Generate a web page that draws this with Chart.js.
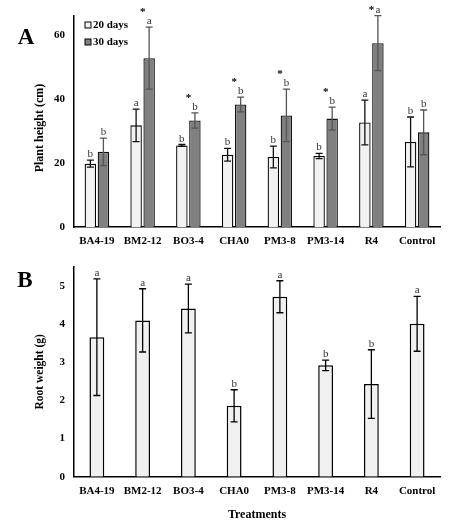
<!DOCTYPE html>
<html>
<head>
<meta charset="utf-8">
<script src="https://cdn.jsdelivr.net/npm/chart.js@4"></script>
<style>
  html, body { margin: 0; padding: 0; background: #fff; }
  #wrap { position: relative; width: 454px; height: 530px; }
  #cA { position: absolute; left: 0; top: 0; }
  #cB { position: absolute; left: 0; top: 250px; }
</style>
</head>
<body>
<div id="wrap">
  <canvas id="cA" width="454" height="250"></canvas>
  <canvas id="cB" width="454" height="280"></canvas>
</div>
<script>
const categories = ['BA4-19', 'BM2-12', 'BO3-4', 'CHA0', 'PM3-8', 'PM3-14', 'R4', 'Control'];
const height20 = [19.8, 31.8, 25.5, 22.6, 21.9, 22.2, 32.7, 26.6];
const height20Err = [1.1, 5.1, 0.3, 2.0, 3.4, 0.8, 7.0, 7.8];
const height30 = [23.5, 52.8, 33.3, 38.3, 34.9, 33.9, 57.5, 29.6];
const height30Err = [4.3, 9.7, 2.4, 2.3, 8.2, 3.6, 8.6, 7.0];
const letters20 = ['b', 'a', 'b', 'b', 'b', 'b', 'a', 'b'];
const letters30 = ['b', 'a', 'b', 'b', 'b', 'b', 'a', 'b'];
const stars = ['', '*', '*', '*', '*', '*', '*', ''];
const rootWeight = [3.66, 4.10, 4.41, 1.86, 4.72, 2.92, 2.43, 4.01];
const rootErr = [1.53, 0.83, 0.64, 0.42, 0.42, 0.14, 0.90, 0.72];
const rootLetters = ['a', 'a', 'a', 'b', 'a', 'b', 'b', 'a'];

const SERIF = "'Liberation Serif', 'Times New Roman', serif";

const annot = {
  id: 'annot',
  afterDatasetsDraw(chart, args, opts) {
    const ctx = chart.ctx;
    const ys = chart.scales.y;
    const letterTops = [];
    ctx.save();
    opts.series.forEach((s, di) => {
      const meta = chart.getDatasetMeta(di);
      meta.data.forEach((bar, j) => {
        const v = s.values[j], e = s.errors[j];
        const yt = ys.getPixelForValue(v + e);
        const yb = ys.getPixelForValue(v - e);
        const x = bar.x;
        ctx.strokeStyle = s.errColor;
        ctx.lineWidth = 1.3;
        ctx.beginPath();
        ctx.moveTo(x, yt); ctx.lineTo(x, yb);
        ctx.moveTo(x - 3.5, yt); ctx.lineTo(x + 3.5, yt);
        ctx.moveTo(x - 3.5, yb); ctx.lineTo(x + 3.5, yb);
        ctx.stroke();
        ctx.fillStyle = '#333';
        ctx.font = '11px ' + SERIF;
        ctx.textAlign = 'center';
        ctx.textBaseline = 'alphabetic';
        ctx.fillText(s.letters[j], x, yt - 3);
        const top = yt - 11;
        letterTops[j] = letterTops[j] === undefined ? top : Math.min(letterTops[j], top);
      });
    });
    if (opts.stars) {
      const xs = chart.scales.x;
      ctx.fillStyle = '#000';
      ctx.font = 'bold 11px ' + SERIF;
      ctx.textAlign = 'center';
      opts.stars.forEach((st, j) => {
        if (!st) return;
        const x = xs.getPixelForValue(j);
        const y = Math.max(letterTops[j] - 1, 13);
        ctx.fillText(st, x, y);
      });
    }
    if (opts.panel) {
      ctx.fillStyle = '#000';
      ctx.font = 'bold 23px ' + SERIF;
      ctx.textAlign = 'center';
      ctx.textBaseline = 'middle';
      ctx.fillText(opts.panel.text, opts.panel.x, opts.panel.y);
    }
    if (opts.yTitle) {
      ctx.save();
      ctx.fillStyle = '#000';
      ctx.font = 'bold 12px ' + SERIF;
      ctx.textAlign = 'center';
      ctx.textBaseline = 'middle';
      ctx.translate(opts.yTitle.x, opts.yTitle.y);
      ctx.rotate(-Math.PI / 2);
      ctx.fillText(opts.yTitle.text, 0, 0);
      ctx.restore();
    }
    if (opts.legend) {
      ctx.font = 'bold 11px ' + SERIF;
      ctx.textAlign = 'left';
      ctx.textBaseline = 'middle';
      opts.legend.forEach(it => {
        ctx.fillStyle = it.fill;
        ctx.strokeStyle = '#000';
        ctx.lineWidth = 1;
        ctx.fillRect(it.x, it.y - 3, 6, 6);
        ctx.strokeRect(it.x, it.y - 3, 6, 6);
        ctx.fillStyle = '#000';
        ctx.fillText(it.text, it.x + 8, it.y + 0.5);
      });
    }
    ctx.restore();
  }
};

function yScale(min, max, step, title, width, titlePad) {
  return {
    min: min, max: max,
    grid: { display: false, drawTicks: false },
    border: { display: true, color: '#000', width: 1.5 },
    ticks: { stepSize: step, includeBounds: false, padding: 9, color: '#000',
             font: { family: SERIF, size: 11, weight: 'bold' } },
    title: { display: !!title, text: title || '', color: '#000', padding: { top: titlePad, bottom: 0 },
             font: { family: SERIF, size: 11.5, weight: 'bold' } },
    afterFit: s => { s.width = width; }
  };
}

function xScale(height, title) {
  const sc = {
    grid: { display: false, drawTicks: false },
    border: { display: true, color: '#000', width: 1.5 },
    ticks: { padding: 8, color: '#000', maxRotation: 0, autoSkip: false,
             font: { family: SERIF, size: 11, weight: 'bold' } },
    afterFit: s => { s.height = height; }
  };
  if (title) {
    sc.title = { display: true, text: title, color: '#000', padding: { top: 0, bottom: 8 },
                 font: { family: SERIF, size: 12, weight: 'bold' } };
  }
  return sc;
}

new Chart(document.getElementById('cA'), {
  type: 'bar',
  data: {
    labels: categories,
    datasets: [
      { label: '20 days', data: height20, backgroundColor: '#f2f2f2', borderColor: '#000',
        borderWidth: 1.3, categoryPercentage: 0.57, barPercentage: 0.88 },
      { label: '30 days', data: height30, backgroundColor: '#808080', borderColor: '#111',
        borderWidth: 1.3, categoryPercentage: 0.57, barPercentage: 0.88 }
    ]
  },
  options: {
    responsive: false,
    animation: false,
    layout: { padding: { left: 20, right: 14, top: 16, bottom: 0 } },
    plugins: {
      legend: { display: false },
      tooltip: { enabled: false },
      annot: {
        series: [
          { values: height20, errors: height20Err, letters: letters20, errColor: '#111' },
          { values: height30, errors: height30Err, letters: letters30, errColor: '#555' }
        ],
        stars: stars,
        panel: { text: 'A', x: 26, y: 38 },
        yTitle: { text: 'Plant height (cm)', x: 40, y: 128 },
        legend: [
          { text: '20 days', fill: '#f2f2f2', x: 85, y: 25 },
          { text: '30 days', fill: '#808080', x: 85, y: 42 }
        ]
      }
    },
    scales: {
      x: xScale(23, null),
      y: yScale(0, 66, 20, null, 74 - 20, 13)
    }
  },
  plugins: [annot]
});

new Chart(document.getElementById('cB'), {
  type: 'bar',
  data: {
    labels: categories,
    datasets: [
      { label: 'Root weight', data: rootWeight, backgroundColor: '#f0f0f0', borderColor: '#000',
        borderWidth: 1.5, categoryPercentage: 0.36, barPercentage: 0.9 }
    ]
  },
  options: {
    responsive: false,
    animation: false,
    layout: { padding: { left: 20, right: 14, top: 17, bottom: 0 } },
    plugins: {
      legend: { display: false },
      tooltip: { enabled: false },
      annot: {
        series: [
          { values: rootWeight, errors: rootErr, letters: rootLetters, errColor: '#000' }
        ],
        panel: { text: 'B', x: 25, y: 31 }
      }
    },
    scales: {
      x: xScale(53.3, 'Treatments'),
      y: yScale(0, 5.5, 1, 'Root weight (g)', 54, 13)
    }
  },
  plugins: [annot]
});
</script>
</body>
</html>
